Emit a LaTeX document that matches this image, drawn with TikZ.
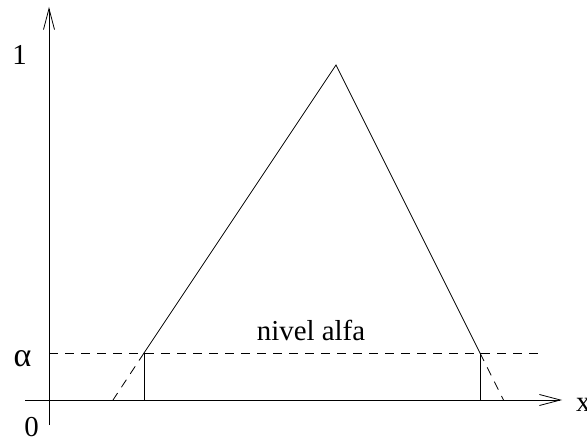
\documentclass[tikz,border=0pt]{standalone}
\usepackage{fontspec}
\setmainfont{Liberation Serif}
\usetikzlibrary{arrows.meta}
\begin{document}
\begin{tikzpicture}[x=1bp,y=-1bp,
  ln/.style={line width=0.8bp,black},
  dsh/.style={ln,dash pattern=on 9bp off 7bp},
  axisarrow/.style={ln,-{Straight Barb[length=21bp,width=11bp,line width=0.8bp]}},
  lbl/.style={font=\fontsize{29}{34}\selectfont,inner sep=0pt,anchor=base}]
\useasboundingbox (0,0) rectangle (587,441);
% points
\coordinate (yb) at (49,425);
\coordinate (yt) at (49,7);
\coordinate (xl) at (25,400);
\coordinate (xr) at (562,400);
\coordinate (apex) at (336,65);
\coordinate (la) at (144,353);
\coordinate (ra) at (480,353);
\coordinate (lb) at (144,400);
\coordinate (rb) at (480,400);
\coordinate (lx) at (113,400);
\coordinate (rx) at (503.5,400);
\coordinate (as) at (49,353);
\coordinate (ae) at (540,353);
% axes
\draw[axisarrow] (yb) -- (yt);
\draw[axisarrow] (xl) -- (xr);
% triangle
\draw[ln] (la) -- (apex) -- (ra);
\draw[ln] (la) -- (lb);
\draw[ln] (ra) -- (rb);
\draw[dsh] (la) -- (lx);
\draw[dsh] (ra) -- (rx);
\draw[dsh] (as) -- (ae);
% labels
\node[lbl] (one) at (19.5,65) {1};
\node[lbl] (zero) at (31.5,436) {0};
\node[lbl,font=\fontsize{34}{38}\selectfont] (alpha) at (22.5,366) {α};
\node[lbl,anchor=base west] (xlab) at (576,411) {x};
\node[lbl] (nivel) at (311,340) {nivel alfa};
\end{tikzpicture}
\end{document}
